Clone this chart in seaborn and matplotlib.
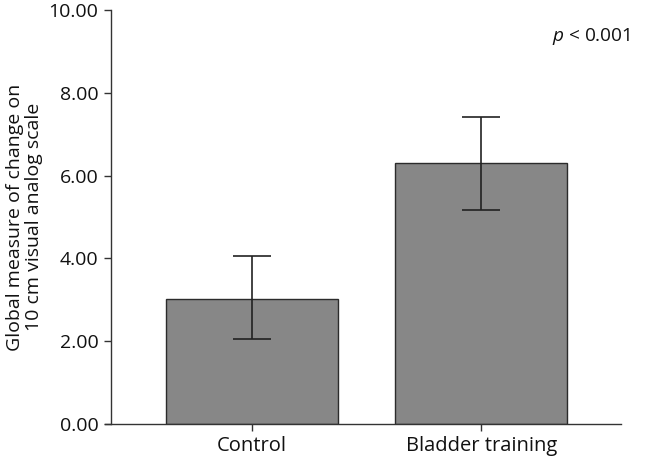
import matplotlib
matplotlib.use("Agg")
import matplotlib.pyplot as plt
import seaborn as sns
import numpy as np
import pandas as pd

categories = ["Control", "Bladder training"]
means = [3.02, 6.30]
err_low = [2.05, 5.17]
err_high = [4.06, 7.42]
yticks = [0, 2, 4, 6, 8, 10]
ylabel = "Global measure of change on\n10 cm visual analog scale"
annotation = "p < 0.001"

sns.set_style("ticks")
plt.rcParams['font.family'] = ['Open Sans', 'DejaVu Sans']
plt.rcParams['text.color'] = '#111111'
plt.rcParams['axes.labelcolor'] = '#111111'
plt.rcParams['xtick.labelcolor'] = '#111111'
plt.rcParams['ytick.labelcolor'] = '#111111'
plt.rcParams['mathtext.fontset'] = 'custom'
plt.rcParams['mathtext.it'] = 'Open Sans:italic'
plt.rcParams['mathtext.rm'] = 'Open Sans'

fig = plt.figure(figsize=(6.56, 4.59), dpi=100)
ax = fig.add_axes([0.1692, 0.0763, 0.7774, 0.9019])

df = pd.DataFrame({"group": categories, "value": means})
sns.barplot(data=df, x="group", y="value", ax=ax, color="#878787",
            saturation=1, width=0.75, edgecolor="#2b2b2b", linewidth=1.0,
            errorbar=None)

m = np.array(means)
yerr = np.vstack([m - np.array(err_low), np.array(err_high) - m])
ax.errorbar(np.arange(len(categories)), m, yerr=yerr, fmt="none",
            ecolor="#222222", elinewidth=1.2, capsize=13.5, capthick=1.2, zorder=5)

ax.set_xlim(-0.615, 1.61)
ax.set_ylim(0, 10)
ax.set_yticks(yticks)
ax.set_yticklabels([f"{t:.2f}" for t in yticks], fontsize=14)
ax.tick_params(axis="x", labelsize=14.5, length=5, width=1.0, color="#333333", pad=4)
ax.tick_params(axis="y", length=5, width=1.0, color="#333333", pad=4)
ax.set_xlabel("")
ax.set_ylabel(ylabel, fontsize=14, labelpad=4, linespacing=1.1)
for s in ["top", "right"]:
    ax.spines[s].set_visible(False)
for s in ["left", "bottom"]:
    ax.spines[s].set_linewidth(1.0)
    ax.spines[s].set_color("#333333")
ax.spines["bottom"].set_bounds(-0.641, 1.61)

ax.text(1.018, 0.937, r"$\it{p}$" + annotation[1:], transform=ax.transAxes,
        ha="right", va="center", fontsize=13.7)

fig.savefig("out.png", dpi=100)
